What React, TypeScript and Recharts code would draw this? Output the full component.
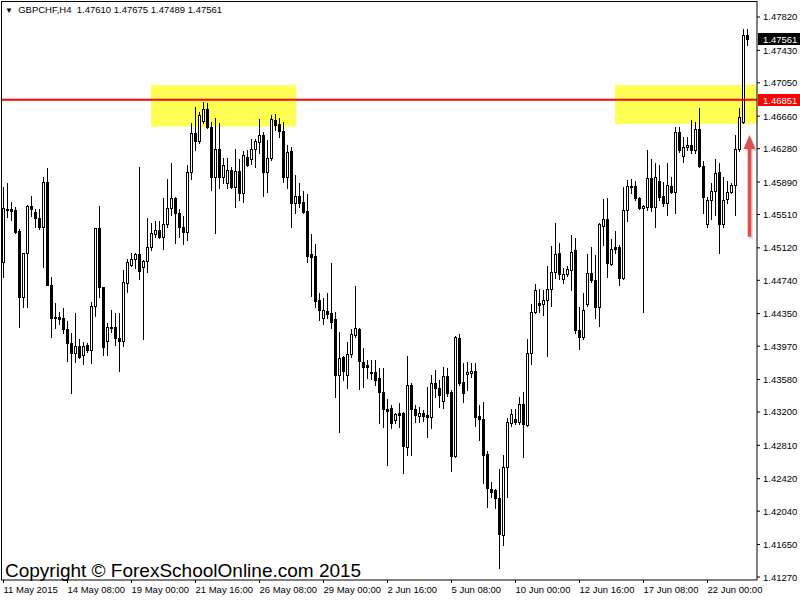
import React from 'react';
import { Bar, ComposedChart, ReferenceArea, ReferenceLine, XAxis, YAxis } from 'recharts';

const symbol = 'GBPCHF,H4';

// H4 candles, 11 May 16:00 .. 23 Jun 2015
const opens = [
  1.4496, 1.4558, 1.4558, 1.4556, 1.4532, 1.4455, 1.4506, 1.4561, 1.4554, 1.4547,
  1.4536, 1.4589, 1.4469, 1.4431, 1.4431, 1.4430, 1.4417, 1.4401, 1.4389, 1.4397,
  1.4387, 1.4398, 1.4392, 1.4444, 1.4535, 1.4466, 1.4403, 1.4419, 1.4419, 1.4407,
  1.4403, 1.4471, 1.4492, 1.4499, 1.4505, 1.4490, 1.4497, 1.4513, 1.4528, 1.4533,
  1.4525, 1.4540, 1.4559, 1.4570, 1.4553, 1.4536, 1.4531, 1.4601, 1.4646, 1.4637,
  1.4660, 1.4674, 1.4653, 1.4595, 1.4628, 1.4595, 1.4588, 1.4603, 1.4583, 1.4602,
  1.4576, 1.4618, 1.4616, 1.4628, 1.4636, 1.4644, 1.4601, 1.4617, 1.4662, 1.4657,
  1.4649, 1.4595, 1.4625, 1.4564, 1.4573, 1.4566, 1.4555, 1.4505, 1.4502, 1.4451,
  1.4430, 1.4438, 1.4436, 1.4429, 1.4363, 1.4384, 1.4363, 1.4388, 1.4410, 1.4417,
  1.4379, 1.4375, 1.4367, 1.4367, 1.4360, 1.4343, 1.4323, 1.4325, 1.4311, 1.4319,
  1.4319, 1.4279, 1.4351, 1.4323, 1.4315, 1.4319, 1.4316, 1.4314, 1.4354, 1.4348,
  1.4333, 1.4362, 1.4343, 1.4268, 1.4407, 1.4355, 1.4364, 1.4366, 1.4368, 1.4315,
  1.4312, 1.4271, 1.4230, 1.4229, 1.4219, 1.4176, 1.4256, 1.4307, 1.4312, 1.4308,
  1.4329, 1.4305, 1.4389, 1.4437, 1.4447, 1.4446, 1.4451, 1.4464, 1.4484, 1.4506,
  1.4476, 1.4481, 1.4486, 1.4510, 1.4416, 1.4408, 1.4446, 1.4483, 1.4474, 1.4443,
  1.4538, 1.4546, 1.4493, 1.4513, 1.4513, 1.4477, 1.4556, 1.4584, 1.4584, 1.4570,
  1.4559, 1.4560, 1.4594, 1.4560, 1.4590, 1.4573, 1.4564, 1.4584, 1.4577, 1.4648,
  1.4619, 1.4630, 1.4632, 1.4626, 1.4651, 1.4608, 1.4540, 1.4568, 1.4578, 1.4601,
  1.4540, 1.4569, 1.4577, 1.4585, 1.4628, 1.4659, 1.4761,
];

const highs = [
  1.4583, 1.4588, 1.4566, 1.4560, 1.4534, 1.4506, 1.4562, 1.4573, 1.4558, 1.4558,
  1.4595, 1.4605, 1.4478, 1.4448, 1.4437, 1.4442, 1.4426, 1.4412, 1.4436, 1.4405,
  1.4402, 1.4401, 1.4449, 1.4535, 1.4561, 1.4466, 1.4424, 1.4439, 1.4436, 1.4436,
  1.4486, 1.4499, 1.4506, 1.4506, 1.4607, 1.4498, 1.4547, 1.4541, 1.4543, 1.4543,
  1.4570, 1.4593, 1.4611, 1.4572, 1.4558, 1.4549, 1.4609, 1.4658, 1.4677, 1.4671,
  1.4683, 1.4681, 1.4659, 1.4664, 1.4658, 1.4617, 1.4617, 1.4607, 1.4628, 1.4616,
  1.4625, 1.4627, 1.4639, 1.4639, 1.4663, 1.4648, 1.4638, 1.4667, 1.4669, 1.4664,
  1.4659, 1.4632, 1.4630, 1.4597, 1.4588, 1.4578, 1.4575, 1.4528, 1.4517, 1.4459,
  1.4453, 1.4459, 1.4494, 1.4437, 1.4414, 1.4385, 1.4402, 1.4417, 1.4467, 1.4418,
  1.4395, 1.4381, 1.4381, 1.4381, 1.4371, 1.4371, 1.4335, 1.4328, 1.4319, 1.4331,
  1.4320, 1.4385, 1.4354, 1.4328, 1.4326, 1.4322, 1.4349, 1.4363, 1.4369, 1.4357,
  1.4373, 1.4371, 1.4346, 1.4409, 1.4411, 1.4377, 1.4379, 1.4377, 1.4377, 1.4328,
  1.4332, 1.4274, 1.4238, 1.4230, 1.4253, 1.4270, 1.4313, 1.4323, 1.4323, 1.4337,
  1.4343, 1.4405, 1.4446, 1.4470, 1.4464, 1.4463, 1.4491, 1.4514, 1.4541, 1.4518,
  1.4488, 1.4491, 1.4527, 1.4523, 1.4443, 1.4459, 1.4505, 1.4513, 1.4504, 1.4541,
  1.4569, 1.4570, 1.4522, 1.4532, 1.4515, 1.4583, 1.4591, 1.4593, 1.4590, 1.4571,
  1.4562, 1.4627, 1.4616, 1.4611, 1.4609, 1.4589, 1.4611, 1.4595, 1.4653, 1.4653,
  1.4642, 1.4642, 1.4662, 1.4659, 1.4675, 1.4614, 1.4572, 1.4588, 1.4616, 1.4611,
  1.4595, 1.4590, 1.4588, 1.4644, 1.4675, 1.4768, 1.47675,
];

const lows = [
  1.4478, 1.4548, 1.4545, 1.4529, 1.4419, 1.4443, 1.4443, 1.4549, 1.4536, 1.4534,
  1.4490, 1.4468, 1.4408, 1.4418, 1.4423, 1.4412, 1.4380, 1.4342, 1.4378, 1.4383,
  1.4376, 1.4390, 1.4377, 1.4432, 1.4455, 1.4387, 1.4387, 1.4414, 1.4398, 1.4368,
  1.4397, 1.4460, 1.4491, 1.4488, 1.4476, 1.4405, 1.4484, 1.4510, 1.4525, 1.4524,
  1.4511, 1.4536, 1.4550, 1.4518, 1.4525, 1.4517, 1.4521, 1.4593, 1.4627, 1.4635,
  1.4658, 1.4652, 1.4580, 1.4529, 1.4582, 1.4588, 1.4582, 1.4582, 1.4560, 1.4568,
  1.4566, 1.4608, 1.4610, 1.4607, 1.4623, 1.4573, 1.4577, 1.4615, 1.4650, 1.4642,
  1.4589, 1.4582, 1.4536, 1.4553, 1.4560, 1.4553, 1.4496, 1.4456, 1.4443, 1.4428,
  1.4423, 1.4430, 1.4418, 1.4337, 1.4297, 1.4357, 1.4348, 1.4384, 1.4408, 1.4347,
  1.4349, 1.4360, 1.4359, 1.4351, 1.4307, 1.4302, 1.4258, 1.4301, 1.4307, 1.4302,
  1.4249, 1.4270, 1.4270, 1.4308, 1.4308, 1.4309, 1.4291, 1.4301, 1.4338, 1.4326,
  1.4325, 1.4339, 1.4251, 1.4267, 1.4351, 1.4332, 1.4346, 1.4361, 1.4304, 1.4287,
  1.4237, 1.4209, 1.4220, 1.4208, 1.4137, 1.4165, 1.4220, 1.4304, 1.4306, 1.4306,
  1.4267, 1.4304, 1.4376, 1.4436, 1.4437, 1.4433, 1.4385, 1.4444, 1.4477, 1.4476,
  1.4471, 1.4479, 1.4463, 1.4412, 1.4394, 1.4405, 1.4444, 1.4472, 1.4430, 1.4421,
  1.4515, 1.4478, 1.4492, 1.4506, 1.4469, 1.4476, 1.4543, 1.4576, 1.4568, 1.4558,
  1.4437, 1.4556, 1.4555, 1.4536, 1.4568, 1.4561, 1.4550, 1.4576, 1.4553, 1.4624,
  1.4612, 1.4626, 1.4623, 1.4623, 1.4607, 1.4553, 1.4536, 1.4546, 1.4550, 1.4506,
  1.4536, 1.4564, 1.4576, 1.4550, 1.4625, 1.4658, 1.47489,
];

const closes = [
  1.4559, 1.4556, 1.4555, 1.4531, 1.4455, 1.4506, 1.4561, 1.4558, 1.4547, 1.4536,
  1.4589, 1.4469, 1.4430, 1.4430, 1.4429, 1.4417, 1.4401, 1.4389, 1.4397, 1.4384,
  1.4397, 1.4392, 1.4444, 1.4535, 1.4466, 1.4396, 1.4419, 1.4418, 1.4407, 1.4403,
  1.4472, 1.4496, 1.4499, 1.4505, 1.4485, 1.4497, 1.4513, 1.4529, 1.4533, 1.4525,
  1.4540, 1.4559, 1.4570, 1.4553, 1.4536, 1.4531, 1.4601, 1.4646, 1.4637, 1.4667,
  1.4674, 1.4653, 1.4595, 1.4628, 1.4595, 1.4609, 1.4603, 1.4583, 1.4602, 1.4576,
  1.4621, 1.4609, 1.4628, 1.4637, 1.4644, 1.4601, 1.4617, 1.4663, 1.4656, 1.4649,
  1.4595, 1.4624, 1.4564, 1.4573, 1.4564, 1.4554, 1.4502, 1.4501, 1.4450, 1.4439,
  1.4439, 1.4435, 1.4425, 1.4363, 1.4383, 1.4368, 1.4388, 1.4411, 1.4418, 1.4380,
  1.4373, 1.4373, 1.4366, 1.4357, 1.4343, 1.4323, 1.4321, 1.4307, 1.4318, 1.4316,
  1.4280, 1.4351, 1.4323, 1.4316, 1.4319, 1.4315, 1.4314, 1.4354, 1.4348, 1.4340,
  1.4362, 1.4342, 1.4268, 1.4408, 1.4354, 1.4342, 1.4367, 1.4368, 1.4314, 1.4312,
  1.4270, 1.4231, 1.4227, 1.4219, 1.4177, 1.4256, 1.4308, 1.4318, 1.4308, 1.4329,
  1.4306, 1.4389, 1.4437, 1.4463, 1.4445, 1.4451, 1.4464, 1.4484, 1.4505, 1.4481,
  1.4481, 1.4487, 1.4507, 1.4416, 1.4408, 1.4439, 1.4483, 1.4474, 1.4443, 1.4540,
  1.4546, 1.4494, 1.4511, 1.4511, 1.4477, 1.4556, 1.4584, 1.4583, 1.4570, 1.4559,
  1.4561, 1.4594, 1.4560, 1.4595, 1.4572, 1.4564, 1.4585, 1.4577, 1.4648, 1.4626,
  1.4630, 1.4632, 1.4626, 1.4651, 1.4608, 1.4572, 1.4568, 1.4578, 1.4600, 1.4540,
  1.4568, 1.4577, 1.4585, 1.4628, 1.4665, 1.4761, 1.47561,
];

const timeLabels = [
  '11 May 2015', '14 May 08:00', '19 May 00:00', '21 May 16:00', '26 May 08:00', '29 May 00:00',
  '2 Jun 16:00', '5 Jun 08:00', '10 Jun 00:00', '12 Jun 16:00', '17 Jun 08:00', '22 Jun 00:00',
];
const timeLabelBars = [0, 16, 32, 48, 64, 80, 96, 112, 128, 144, 160, 176];

const priceTicks = [
  1.4782, 1.4743, 1.4705, 1.4666, 1.4628, 1.4589, 1.4551, 1.4512, 1.4474,
  1.4435, 1.4397, 1.4358, 1.432, 1.4281, 1.4242, 1.4204, 1.4165, 1.4127,
];

const lineLevel = 1.46851;
const bidPrice = 1.47561;

// yellow zones: [barFrom, barTo, priceLow, priceHigh]
const zoneBars = [[36.9, 73.2], [152.9, 188.4]];
const zonePrices = [[1.4654, 1.47025], [1.4657, 1.47025]];

// red arrow: bar, from price, to price
const arrowBar = 186.5;
const arrowFrom = 1.4525;
const arrowTo = 1.4644;

const data = opens.map((o, i) => ({
  i,
  open: o,
  high: highs[i],
  low: lows[i],
  close: closes[i],
  range: [lows[i], highs[i]],
}));

const font = "'Liberation Sans', Arial, sans-serif";

function Candle(props: any) {
  const { x, y, width, height, payload } = props;
  const { open, close, high, low } = payload;
  const top = Math.min(y, y + height);
  const bottom = Math.max(y, y + height);
  const span = high - low || 1e-9;
  const toY = (p: number) => top + ((high - p) / span) * (bottom - top);
  const cx = Math.floor(x + width / 2) + 0.5;
  const bodyTop = Math.round(Math.min(toY(open), toY(close)));
  const bodyBot = Math.round(Math.max(toY(open), toY(close)));
  const bull = close >= open;
  return (
    <g>
      <line x1={cx} x2={cx} y1={Math.round(top)} y2={Math.round(bottom) + 1} stroke="#000" />
      {bodyBot > bodyTop ? (
        <rect x={cx - 1} y={bodyTop + 0.5} width={2} height={bodyBot - bodyTop} fill={bull ? '#fff' : '#000'} stroke="#000" />
      ) : (
        <line x1={cx - 1.5} x2={cx + 1.5} y1={bodyTop + 0.5} y2={bodyTop + 0.5} stroke="#000" />
      )}
    </g>
  );
}

function XTick(props: any) {
  const { x, y, payload } = props;
  const idx = timeLabelBars.indexOf(payload.value);
  return (
    <text x={x} y={y} dy={8} textAnchor="start" fontSize={9.5} fontFamily={font} fill="#000">
      {timeLabels[idx]}
    </text>
  );
}

function YTick(props: any) {
  const { x, y, payload } = props;
  return (
    <text x={x} y={y} dy={3.5} textAnchor="start" fontSize={9.5} fontFamily={font} fill="#000">
      {payload.value.toFixed(5)}
    </text>
  );
}

const priceTag = (value: number, bg: string) => (p: any) => {
  const { x, y, width } = p.viewBox;
  const left = x + width + 1;
  return (
    <g>
      <rect x={left} y={Math.round(y) - 6} width={43} height={12} fill={bg} />
      <text x={left + 5} y={Math.round(y) + 3.5} fontSize={9.5} fontFamily={font} fill="#fff">
        {value.toFixed(5)}
      </text>
    </g>
  );
};

function Arrow(props: any) {
  const { x1, y1, x2, y2 } = props;
  const cx = (x1 + x2) / 2;
  const tip = Math.min(y1, y2);
  const base = Math.max(y1, y2);
  const head = 14;
  const d = `M${cx - 1.8},${base} L${cx - 1.8},${tip + head} L${cx - 6},${tip + head} L${cx},${tip} L${cx + 6},${tip + head} L${cx + 1.8},${tip + head} L${cx + 1.8},${base} Z`;
  return (
    <g>
      <path d={d} fill="#999" opacity={0.35} transform="translate(1.5,2)" />
      <path d={d} fill="#e24e4e" />
    </g>
  );
}

export default function App() {
  return (
    <div style={{ position: 'absolute', left: 0, top: 0, width: 800, height: 600, background: '#fff', overflow: 'hidden' }}>
      <ComposedChart width={800} height={600} data={data} margin={{ top: 1, right: 0, bottom: 0, left: 1 }}>
        {zoneBars.map((b, k) => (
          <ReferenceArea
            key={k}
            x1={b[0]}
            x2={b[1]}
            y1={zonePrices[k][0]}
            y2={zonePrices[k][1]}
            fill="#ffff55"
            fillOpacity={1}
            stroke="none"
            ifOverflow="hidden"
          />
        ))}
        <XAxis
          dataKey="i"
          type="number"
          domain={[-0.625, 188.375]}
          allowDataOverflow
          ticks={timeLabelBars}
          interval={0}
          tick={<XTick />}
          tickSize={3}
          tickMargin={2}
          height={20}
          stroke="#000"
        />
        <YAxis
          orientation="right"
          type="number"
          domain={[1.41235, 1.48007]}
          allowDataOverflow
          ticks={priceTicks}
          interval={0}
          tick={<YTick />}
          tickSize={3}
          tickMargin={3}
          width={43}
          stroke="#000"
        />
        <Bar dataKey="range" shape={Candle} barSize={3} isAnimationActive={false} />
        <ReferenceLine y={lineLevel} stroke="#ff0000" strokeWidth={2} label={priceTag(lineLevel, '#ff0000')} />
        <ReferenceLine y={bidPrice} stroke="none" label={priceTag(bidPrice, '#000')} />
        <ReferenceLine
          segment={[{ x: arrowBar, y: arrowFrom }, { x: arrowBar, y: arrowTo }]}
          shape={Arrow}
          ifOverflow="visible"
        />
      </ComposedChart>
      <div style={{ position: 'absolute', left: 1, top: 1, width: 756, height: 579, borderLeft: '1px solid #000', borderTop: '1px solid #000', boxSizing: 'border-box', pointerEvents: 'none' }} />
      <div style={{ position: 'absolute', left: 5, top: 4, fontFamily: font, fontSize: 9.5, whiteSpace: 'pre', lineHeight: '12px', color: '#000' }}>
        <span style={{ fontSize: 8 }}>▼</span>
        {`  ${symbol}  1.47610 1.47675 1.47489 1.47561`}
      </div>
      <div style={{ position: 'absolute', left: 5, top: 561, fontFamily: font, fontSize: 19, lineHeight: '19px', whiteSpace: 'pre', color: '#000' }}>
        Copyright © ForexSchoolOnline.com 2015
      </div>
    </div>
  );
}
